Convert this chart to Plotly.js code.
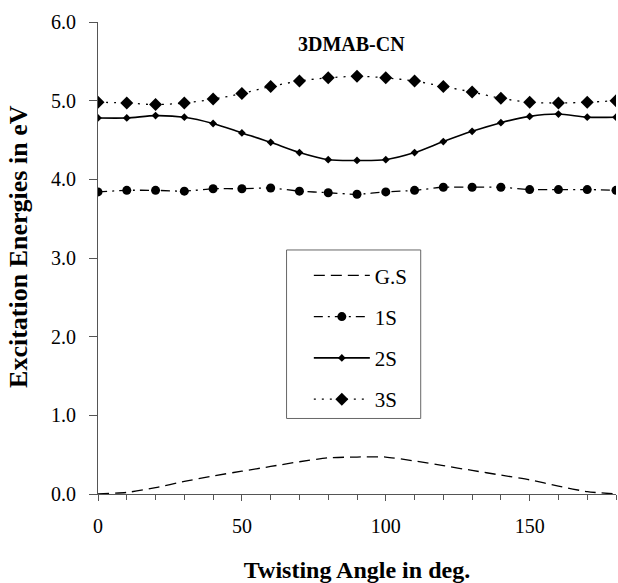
<!DOCTYPE html>
<html>
<head>
<meta charset="utf-8">
<script src="https://cdn.plot.ly/plotly-3.0.1.min.js"></script>
<style>html,body{margin:0;padding:0;background:#fff;}#chart{width:618px;height:583px;}</style>
</head>
<body>
<div id="chart"></div>
<script>
const angles = [0,10,20,30,40,50,60,70,80,90,100,110,120,130,140,150,160,170,180];
const groundState = [0.00,0.02,0.08,0.16,0.23,0.29,0.35,0.41,0.46,0.47,0.47,0.42,0.36,0.30,0.24,0.18,0.10,0.03,0.00];
const state1S = [3.84,3.86,3.86,3.85,3.88,3.88,3.89,3.85,3.83,3.81,3.84,3.86,3.90,3.90,3.90,3.87,3.87,3.87,3.86];
const state2S = [4.78,4.78,4.81,4.79,4.71,4.59,4.47,4.34,4.25,4.24,4.25,4.34,4.48,4.61,4.72,4.80,4.83,4.79,4.79];
const state3S = [4.98,4.97,4.95,4.97,5.02,5.09,5.18,5.25,5.29,5.31,5.29,5.25,5.18,5.11,5.03,4.98,4.97,4.98,5.00];
const seriesNames = ['G.S','1S','2S','3S'];
const xTickVals = [0,50,100,150];
const yTickVals = [0,1,2,3,4,5,6];
const yTickText = ['0.0','1.0','2.0','3.0','4.0','5.0','6.0'];

const serif = 'Liberation Serif, Times New Roman, serif';
const traces = [
  {x: angles, y: groundState, name: seriesNames[0], mode: 'lines', legendgroup:'a',
   line: {color:'#000', width:1.3, dash:'11px,6px', shape:'spline', smoothing:0.6}},
  {x: angles, y: state1S, name: seriesNames[1], mode: 'lines+markers', legendgroup:'b',
   line: {color:'#000', width:1.3, dash:'9px,5px,2px,5px', shape:'spline', smoothing:0.6},
   marker: {symbol:'circle', size:9, color:'#000'}},
  {x: angles, y: state2S, name: seriesNames[2], mode: 'lines+markers', legendgroup:'c',
   line: {color:'#000', width:1.6, shape:'spline', smoothing:0.8},
   marker: {symbol:'diamond', size:6, color:'#000'}},
  {x: angles, y: state3S, name: seriesNames[3], mode: 'lines+markers', legendgroup:'d',
   line: {color:'#000', width:1.3, dash:'2px,6px', shape:'spline', smoothing:0.8},
   marker: {symbol:'diamond', size:10, color:'#000'}}
];

const layout = {
  width: 618, height: 583,
  margin: {l:98, r:2, t:22, b:89},
  paper_bgcolor:'#fff', plot_bgcolor:'#fff',
  showlegend: true,
  font: {family: serif, color:'#000', size:20},
  xaxis: {
    range:[0,180], showgrid:false, zeroline:false,
    showline:true, linecolor:'#555', linewidth:1,
    tickmode:'array', tickvals: xTickVals,
    ticks:'outside', ticklen:6, tickcolor:'#555',
    ticklabelstandoff: 8,
    minor:{dtick:10, ticks:'outside', ticklen:5, tickcolor:'#555', showgrid:false},
    tickfont:{family:serif, size:20, color:'#000'},
    title:{text:'Twisting Angle in deg.', font:{family:serif, size:24, color:'#000', weight:'bold'}, standoff:26}
  },
  yaxis: {
    range:[0,6], showgrid:false, zeroline:false,
    showline:true, linecolor:'#555', linewidth:1,
    tickmode:'array', tickvals: yTickVals, ticktext: yTickText,
    ticks:'outside', ticklen:8, tickcolor:'#555',
    ticklabelstandoff: 9,
    tickfont:{family:serif, size:20, color:'#000'}
  },
  legend: {
    x:0.407, y:0.506, xanchor:'left', yanchor:'top',
    bgcolor:'rgba(0,0,0,0)', borderwidth:0,
    itemwidth:56, tracegroupgap:11,
    font:{family:serif, size:21, color:'#000'}
  },
  shapes: [{
    type:'rect', xref:'paper', yref:'paper',
    x0:0.364, x1:0.623, y0:0.16, y1:0.517,
    line:{color:'#666', width:1}, fillcolor:'rgba(0,0,0,0)', layer:'below'
  }],
  annotations: [{
    x:88, y:5.72, xref:'x', yref:'y', showarrow:false,
    text:'<b>3DMAB-CN</b>', font:{family:serif, size:20, color:'#000'}
  }, {
    x:-0.155, y:3.15, xref:'paper', yref:'y', showarrow:false, textangle:-90,
    xanchor:'center', yanchor:'middle',
    text:'<b>Excitation Energies in eV</b>', font:{family:serif, size:26, color:'#000'}
  }]
};

Plotly.newPlot('chart', traces, layout, {displayModeBar:false, staticPlot:true});
</script>
</body>
</html>
